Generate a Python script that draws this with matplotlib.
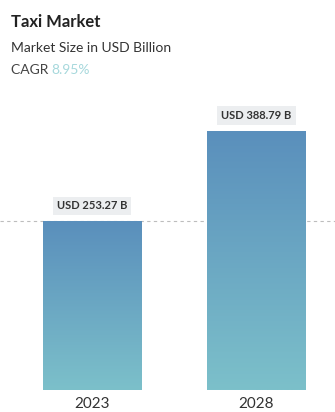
import numpy as np
import matplotlib.pyplot as plt
from matplotlib.colors import LinearSegmentedColormap

plt.rcParams['font.family'] = ['Lato', 'DejaVu Sans']

# Market size per year (USD billion)
years = ['2023', '2028']
market_size = [253.27, 388.79]
title = 'Taxi Market'
subtitle = 'Market Size in USD Billion'
cagr_text = '8.95%'

W, H = 335, 412
fig = plt.figure(figsize=(W / 100, H / 100), dpi=100)
fig.patch.set_facecolor('white')

# plot area: bars sit on y=390px, spans the full width so the guide line runs edge to edge
ax = fig.add_axes([0, 22 / H, 1, 290 / H])
ax.set_xlim(-0.5593, 1.4772)
ax.set_ylim(0, 435.3)
ax.axis('off')

grad = LinearSegmentedColormap.from_list('bar_grad', ['#7cc0ca', '#5a8fbc'])
x = np.arange(len(years))
bars = ax.bar(x, market_size, width=0.6, color='none', edgecolor='none', zorder=3)
ramp = np.linspace(0, 1, 256).reshape(-1, 1)
for b in bars:
    x0, y0 = b.get_x(), b.get_y()
    im = ax.imshow(ramp, cmap=grad, origin='lower', aspect='auto', zorder=3,
                   extent=[x0, x0 + b.get_width(), y0, y0 + b.get_height()])
    im.set_clip_path(b)

# dashed guide at the first year's level
ax.axhline(market_size[0], color='#bdbdbd', linestyle=(0, (3, 3)), linewidth=0.8, zorder=1)

for xi, v in zip(x, market_size):
    ax.annotate(f'USD {v:.2f} B', (xi, v), xytext=(0, 11), textcoords='offset points',
                ha='center', va='center', fontsize=8, color='#333333', fontweight='bold',
                bbox=dict(boxstyle='square,pad=0.35', facecolor='#eceef0', edgecolor='none'),
                zorder=4)

for xi, yr in zip(x, years):
    ax.annotate(yr, (xi, 0), xytext=(0, -10), textcoords='offset points',
                ha='center', va='center', fontsize=11, color='#333333',
                annotation_clip=False)

fig.text(11 / W, 1 - 22 / H, title, fontsize=12, fontweight='bold', color='#222222', va='center')
fig.text(11 / W, 1 - 48 / H, subtitle, fontsize=10, color='#333333', va='center')
t = fig.text(11 / W, 1 - 70 / H, 'CAGR ', fontsize=10, color='#444444', va='center')
fig.canvas.draw()
bb = t.get_window_extent()
fig.text(bb.x1 / W, 1 - 70 / H, cagr_text, fontsize=10, color='#a6d8dc', va='center')

fig.savefig('out.png', dpi=100)
